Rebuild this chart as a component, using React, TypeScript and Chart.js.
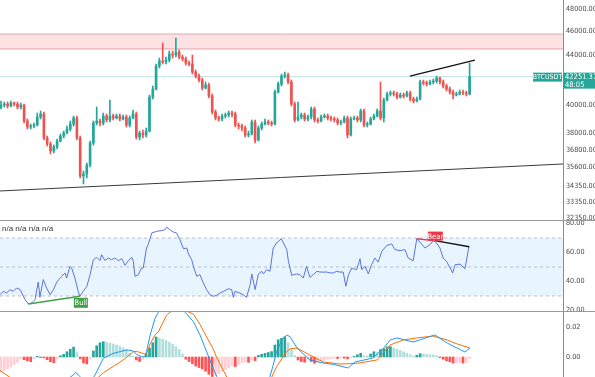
import React, { useEffect, useRef } from 'react';
import { Chart, registerables } from 'chart.js';

Chart.register(...registerables);

// ---------------- Price panel data (BTCUSDT candles) ----------------
const openPrices = [
  39896, 40047, 40123, 39972, 40199, 40123, 39896, 40047, 38855, 38418,
  38490, 38563, 39150, 39372, 37628, 37204, 36716, 36994, 37415, 37770,
  37985, 38273, 38636, 39076, 37628, 35024, 35156, 35758, 37274, 38709,
  38855, 38709, 39224, 38929, 39224, 39076, 39224, 39002, 39150, 38563,
  39076, 39372, 37699, 37985, 37842, 38129, 40656, 41275, 43107, 43516,
  43434, 43598, 44096, 44012, 44262, 43846, 43681, 43352, 43270, 42621,
  42301, 41982, 41353, 41588, 40733, 39521, 39076, 39002, 39224, 39298,
  39447, 39372, 38563, 38490, 38345, 37842, 37913, 38782, 37486, 38345,
  38636, 38782, 38709, 38636, 41042, 41667, 42301, 42381, 41824, 40123,
  38929, 39150, 39298, 39002, 39150, 39746, 38929, 38855, 39150, 39224,
  39076, 39002, 38929, 38709, 38782, 39076, 37842, 39002, 39076, 38929,
  39596, 38563, 38636, 39002, 39224, 39596, 39076, 40427, 40887, 40965,
  40887, 40656, 40810, 40733, 40965, 40503, 40351, 40503, 41824, 41745,
  41667, 41824, 41903, 42141, 41824, 41510, 41275, 41042, 40810, 40887,
  41042, 40965, 40887,
];
const highPrices = [
  40351, 40275, 40275, 40351, 40275, 40275, 40199, 40123, 39002, 38636,
  38709, 39447, 39596, 39521, 37770, 37345, 37134, 37557, 37913, 38129,
  38490, 38855, 39224, 39224, 37770, 35356, 35893, 37415, 38855, 39896,
  39002, 39447, 39372, 40427, 39372, 39372, 39372, 39298, 39298, 39224,
  39671, 39521, 38129, 38201, 38345, 40810, 41510, 43270, 43763, 45021,
  43846, 44346, 44346, 45448, 44430, 44012, 43846, 43516, 44012, 42783,
  42461, 42141, 41824, 41745, 40887, 39671, 39224, 39372, 39447, 39596,
  39596, 39521, 38709, 38636, 38490, 38129, 38929, 38929, 38490, 38782,
  39002, 38929, 38855, 41197, 41824, 42461, 42621, 42541, 41982, 40275,
  40275, 39447, 39447, 39298, 39896, 39896, 39076, 39298, 39372, 39372,
  39224, 39150, 39076, 38929, 39224, 39224, 39150, 39224, 39224, 39746,
  39746, 38782, 39150, 39372, 39746, 41824, 40580, 41042, 41120, 41120,
  41042, 40965, 40965, 41120, 41120, 40656, 40656, 41982, 41982, 41903,
  41982, 42062, 42301, 42221, 41982, 41667, 41431, 41197, 41042, 41197,
  41197, 41120, 43352,
];
const lowPrices = [
  39746, 39896, 39821, 39896, 39972, 39746, 39746, 38709, 38273, 38273,
  38345, 38490, 39002, 37486, 37064, 36509, 36578, 36855, 37345, 37628,
  37913, 38129, 38490, 37486, 34892, 34499, 34892, 35624, 37134, 38563,
  38490, 38563, 38782, 38782, 38929, 39002, 38855, 38929, 38418, 38418,
  39002, 37557, 37486, 37628, 37699, 38057, 40503, 41197, 42945, 43270,
  43270, 43434, 43763, 43846, 43681, 43516, 43189, 43107, 42461, 42141,
  41824, 41197, 41275, 40580, 39372, 38929, 38855, 38855, 39076, 39150,
  39150, 38418, 38273, 38129, 37699, 37699, 37842, 37274, 37415, 38201,
  38563, 38563, 38490, 38563, 40965, 41510, 42141, 41667, 39972, 38782,
  38855, 39002, 38855, 38855, 39002, 38782, 38709, 38782, 39076, 38929,
  38855, 38782, 38563, 38563, 38709, 37628, 37770, 38929, 38782, 38782,
  38418, 38418, 38563, 38929, 39150, 38929, 38782, 40351, 40733, 40733,
  40503, 40580, 40580, 40656, 40351, 40199, 40275, 40427, 41588, 41510,
  41588, 41667, 41745, 41667, 41353, 41120, 40887, 40503, 40733, 40810,
  40810, 40733, 40810,
];
const closePrices = [
  40047, 40123, 39972, 40199, 40123, 39896, 40047, 38855, 38418, 38490,
  38563, 39150, 39372, 37628, 37204, 36716, 36994, 37415, 37770, 37985,
  38273, 38636, 39076, 37628, 35024, 35156, 35758, 37274, 38709, 38855,
  38709, 39224, 38929, 39224, 39076, 39224, 39002, 39150, 38563, 39076,
  39372, 37699, 37985, 37842, 38129, 40656, 41275, 43107, 43516, 43434,
  43598, 44096, 44012, 44262, 43846, 43681, 43352, 43270, 42621, 42301,
  41982, 41353, 41588, 40733, 39521, 39076, 39002, 39224, 39298, 39447,
  39372, 38563, 38490, 38345, 37842, 37913, 38782, 37486, 38345, 38636,
  38782, 38709, 38636, 41042, 41667, 42301, 42381, 41824, 40123, 38929,
  39150, 39298, 39002, 39150, 39746, 38929, 38855, 39150, 39224, 39076,
  39002, 38929, 38709, 38782, 39076, 37842, 39002, 39076, 38929, 39596,
  38563, 38636, 39002, 39224, 39596, 39076, 40427, 40887, 40965, 40887,
  40656, 40810, 40733, 40965, 40503, 40351, 40503, 41824, 41745, 41667,
  41824, 41903, 42141, 41824, 41510, 41275, 41042, 40810, 40887, 41042,
  40965, 40887, 42251.37,
];

const priceTicks = [32350, 33350, 34350, 35600, 36800, 38000, 40000, 44000, 46000, 48000];
const priceMin = 32230;
const priceMax = 48830;
const lastPrice = 42251.37;
const symbolName = 'BTCUSDT';
const countdownText = '48:05';
const zoneLow = 44514;
const zoneHigh = 45793;
const trendIdx = [-0.3, 170.3];
const trendVal = [34046, 35826];
const resistIdx = [123.9, 143.6];
const resistVal = [42301, 43598];

// ---------------- RSI panel data ----------------
const rsiIdx = [
  -0.3, 0.7, 1.7, 2.7, 3.7, 4.7, 5.8, 6.3, 7.3, 8.3,
  9.3, 10.3, 11.3, 11.8, 12.8, 13.8, 14.9, 15.9, 16.9, 18.4,
  19.4, 19.9, 20.9, 21.4, 22.4, 23.4, 23.9, 24.9, 26, 27,
  28, 29, 30, 30.5, 31.5, 32.5, 33.5, 34.5, 35.6, 36.6,
  37.6, 38.6, 39.6, 40.1, 40.6, 41.6, 42.6, 43.1, 44.1, 44.6,
  45.7, 47.2, 48.7, 49.7, 50.2, 51.2, 52.2, 53.2, 54.2, 55.3,
  56.3, 56.8, 57.8, 58.3, 59.3, 60.3, 61.3, 62.3, 63.3, 64.4,
  65.4, 66.4, 67.4, 68.9, 69.9, 70.4, 70.9, 72.4, 73.4, 74.4,
  75.5, 76, 77, 78, 79, 79.5, 80.5, 81.5, 82.5, 83.5,
  84.9, 85.6, 86.6, 87.1, 88.1, 88.6, 89.6, 90.6, 91.6, 92.6,
  93.6, 94.6, 95.7, 96.7, 98.7, 99.7, 100.7, 101.7, 102.7, 103.7,
  104.5, 105.3, 106.3, 106.8, 107.8, 108.8, 109.3, 110.3, 111.3, 112.3,
  113.3, 114.3, 115.4, 116.9, 118.4, 119.4, 120.9, 122.4, 123.4, 124.9,
  126, 127.2, 128.5, 130, 131, 132, 133, 134, 135, 136.9,
  137.6, 139.1, 140.6, 141.8,
];
const rsiVal = [
  30.9, 33.2, 32, 34.4, 33.2, 35.5, 34.4, 32.1, 27.5, 24.5,
  25.2, 27.5, 39.6, 29.1, 41.3, 35.5, 31, 34.4, 39.6, 43.6,
  45.9, 42.4, 50.5, 49.3, 42.4, 33.2, 29.8, 33.2, 36.6, 44.7,
  55, 56.7, 54.4, 58.5, 54.4, 56.2, 55, 56.2, 54.4, 55.8,
  51.1, 54.4, 56.7, 54, 43.6, 44.7, 49.3, 49.3, 63.1, 65.4,
  73.5, 74.6, 75.1, 75.7, 77.4, 75.7, 74.1, 73.5, 68.9, 62.6,
  63.1, 59, 55, 50.5, 43.6, 44.7, 39, 34.4, 30.9, 29.8,
  30.5, 32.1, 33.2, 35, 34.4, 29.1, 33.2, 32, 30.9, 29.1,
  37.8, 45.2, 34.4, 45.2, 47, 45.2, 48.2, 47, 63.1, 66.5,
  69.5, 66.5, 62, 53.9, 44.2, 44.7, 45.2, 44.7, 42.4, 50.5,
  42.9, 44.7, 47, 46.5, 46.5, 45.9, 45.9, 47, 46.5, 46.5,
  36.7, 44.7, 49.3, 48.8, 48.2, 55.7, 48.2, 50.5, 45.2, 51.6,
  56.2, 53.4, 60.8, 64.9, 65.9, 62, 61.3, 62, 56.2, 54.4,
  69.5, 66.5, 63.1, 65.4, 68.2, 66.5, 63.1, 56.2, 53.9, 45.9,
  51.6, 52, 48.8, 64.2,
];
const rsiTicks = [20, 40, 60, 80];
const rsiUpper = 70;
const rsiMiddle = 50;
const rsiLower = 30;
const rsiMin = 19.66;
const rsiMax = 81.72;
const bullIdx = [8.3, 23.9];
const bullVal = [24.5, 29.8];
const bearIdx = [126, 131];
const bearVal = [69.5, 68.2];
const bearLineIdx = [131.5, 141.9];
const bearLineVal = [68.2, 64];
const headerText = 'n/a n/a n/a n/a';

// ---------------- MACD panel data ----------------
const macdHist = [
  -0.0098, -0.0088, -0.0078, -0.0066, -0.0052, -0.0036, -0.0012, -0.0018, -0.0026, -0.0031,
  -0.0012, 0.0004, -0.0004, -0.0006, -0.0018, -0.0032, -0.0038, -0.0012, 0.0008, 0.0018,
  0.0035, 0.0052, 0.0066, 0.003, -0.0012, -0.004, -0.0046, -0.0012, 0.004, 0.0075,
  0.0095, 0.0102, 0.0098, 0.0093, 0.0087, 0.008, 0.0071, 0.0062, 0.005, 0.0025,
  0.0005, -0.002, -0.003, -0.0015, 0.002, 0.006, 0.0095, 0.0133, 0.0125, 0.0118,
  0.011, 0.0098, 0.0085, 0.007, 0.005, 0.002, -0.0015, -0.003, -0.0045, -0.006,
  -0.007, -0.008, -0.0095, -0.0115, -0.013, -0.0125, -0.011, -0.0098, -0.0085, -0.0072,
  -0.006, -0.0064, -0.0048, -0.0038, -0.003, -0.0036, -0.002, -0.0024, 0.001, 0.0018,
  0.0024, 0.003, 0.0036, 0.008, 0.0115, 0.0125, 0.0135, 0.0095, 0.005, 0.001,
  -0.002, -0.003, -0.0035, -0.002, -0.003, -0.0042, -0.0035, -0.0025, -0.002, -0.0015,
  -0.0012, -0.0008, -0.001, -0.0006, -0.0008, -0.0012, -0.0004, 0.0004, 0.0015, 0.0025,
  0.001, 0.0008, 0.002, 0.0035, 0.0033, 0.005, 0.0055, 0.0068, 0.0069, 0.006,
  0.0052, 0.0044, 0.0035, 0.0026, 0.0015, 0.0005, 0.0012, 0.0022, 0.002, 0.0018,
  0.0016, 0.0014, 0.001, -0.0005, -0.0015, -0.0025, -0.0032, -0.004, -0.0038, -0.0035,
  -0.004, -0.0035, -0.001,
];
const macdIdx = [
  -0.3, 14.9, 21.9, 22.7, 23.9, 26.5, 28.5, 31, 34, 36.1,
  38.1, 40.1, 41.1, 42.6, 43.6, 44.1, 45.2, 46.7, 47.7, 50.2,
  53.2, 55.8, 58.3, 60.3, 62.3, 64.3, 65.4, 70.4, 76.5, 81.5,
  82.5, 83.5, 85.1, 86.6, 87.6, 89.7, 93.6, 97.6, 100.7, 105.2,
  107.3, 112.7, 115.9, 117.9, 120, 124.9, 131.5, 135.2, 138.2, 140.6,
  142.1,
];
const macdVal = [
  -0.0188, -0.023, -0.012, -0.0102, -0.0131, -0.0187, -0.012, -0.0009, 0.0024, 0.0036,
  0.0047, 0.004, 0.0018, 0.0002, 0.0002, 0.0036, 0.0147, 0.0258, 0.0298, 0.039,
  0.04, 0.0298, 0.0236, 0.0147, 0.0036, -0.0076, -0.0131, -0.0276, -0.0253, -0.0131,
  -0.0053, 0.0036, 0.0113, 0.0147, 0.0135, 0.006, -0.002, -0.004, -0.0049, -0.0073,
  -0.0033, -0.0007, 0.0058, 0.0113, 0.0127, 0.01, 0.0147, 0.0093, 0.006, 0.0033,
  0.006,
];
const signalIdx = [
  -0.3, 2.7, 10, 20, 22.5, 26, 29, 31, 34, 36,
  38, 40, 41, 42.6, 44, 45.2, 46.7, 47.7, 50.2, 53.2,
  55.8, 58.3, 60.3, 62.3, 64.3, 65.4, 70.4, 76.5, 81.5, 83.5,
  86.6, 87.6, 89.7, 93.6, 97.6, 102.7, 108, 113.9, 117.9, 121.8,
  126, 130.9, 135.2, 138.2, 142.1,
];
const signalVal = [
  -0.009, -0.0135, -0.019, -0.0185, -0.017, -0.016, -0.0145, -0.0105, -0.0063, -0.0035,
  -0.0003, 0.0035, 0.0038, 0.0027, 0.0016, 0.0087, 0.0148, 0.0168, 0.028, 0.0335,
  0.031, 0.0286, 0.0217, 0.0134, 0.0054, -0.0006, -0.0216, -0.023, -0.016, -0.0064,
  0.0037, 0.0055, 0.006, 0.0013, -0.0033, -0.0047, -0.0042, -0.002, 0.008, 0.0113,
  0.0127, 0.014, 0.0113, 0.0087, 0.006,
];
const macdTicks = [0, 0.02];
const macdMin = -0.01333;
const macdMax = 0.03;

const X_MIN = -0.3;
const X_MAX = 170.3;

const GREEN = '#26a69a';
const RED = '#ef5350';

const pts = (xs: number[], ys: number[]) => xs.map((x, i) => ({ x, y: ys[i] }));
const hline = (v: number) => [{ x: X_MIN, y: v }, { x: X_MAX, y: v }];

function pickFont() {
  const c = document.createElement('canvas').getContext('2d') as CanvasRenderingContext2D;
  const sample = '48000.00 BTCUSDT';
  c.font = '20px monospace';
  const mono = c.measureText(sample).width;
  const candidates = ['Liberation Sans Narrow', 'Arial Narrow', 'DejaVu Sans Condensed', 'Roboto Condensed', 'Open Sans Condensed'];
  for (const name of candidates) {
    c.font = `20px "${name}", monospace`;
    const w = c.measureText(sample).width;
    if (Math.abs(w - mono) > 0.5) {
      const narrow = name.indexOf('DejaVu') >= 0 ? 7.2 : 8;
      return { family: `"${name}", Arial, sans-serif`, axis: narrow, tag: 7.5, sym: 7, label: 7.5 };
    }
  }
  return { family: 'Arial, "Liberation Sans", sans-serif', axis: 7, tag: 6.4, sym: 6, label: 7 };
}

function rightAxis(type: string, min: number, max: number, ticks: number[], F: any) {
  return {
    type,
    position: 'right',
    min,
    max,
    bounds: 'data',
    afterBuildTicks: (s: any) => {
      s.ticks = ticks.map((v) => ({ value: v }));
    },
    afterFit: (s: any) => {
      s.width = 32;
    },
    grid: { display: false, drawTicks: false },
    border: { display: true, color: '#8c8c8c', width: 1 },
    ticks: {
      autoSkip: false,
      padding: 3,
      color: '#4a4a4a',
      font: { family: F.family, size: F.axis },
      callback: (v: any) => Number(v).toFixed(2),
    },
  };
}

const xAxis = { type: 'linear', min: X_MIN, max: X_MAX, display: false, offset: false };

const baseOptions = (padTop: number, padBottom: number) => ({
  responsive: false,
  maintainAspectRatio: false,
  animation: false,
  events: [],
  layout: { padding: { top: padTop, bottom: padBottom, left: 0, right: 0 } },
  elements: { point: { radius: 0 }, line: { tension: 0 } },
  plugins: { legend: { display: false }, tooltip: { enabled: false } },
});

function buildMain(F: any) {
  const idx = closePrices.map((_, i) => i);
  const colors = idx.map((i) => (closePrices[i] >= openPrices[i] ? GREEN : RED));
  const priceTag = {
    id: 'priceTag',
    afterDraw(chart: any) {
      const { ctx, chartArea, scales } = chart;
      const y = scales.y.getPixelForValue(lastPrice);
      const r = chartArea.right;
      ctx.save();
      ctx.fillStyle = GREEN;
      ctx.fillRect(r, y - 4, chart.width - r, 16);
      ctx.fillRect(r - 30, y - 4, 29, 9);
      ctx.fillStyle = '#ffffff';
      ctx.textBaseline = 'middle';
      ctx.textAlign = 'left';
      ctx.font = `${F.tag}px ${F.family}`;
      ctx.fillText(lastPrice.toFixed(2), r + 2, y + 0.5);
      ctx.fillText(countdownText, r + 2, y + 8);
      ctx.textAlign = 'center';
      ctx.font = `${F.sym}px ${F.family}`;
      ctx.fillText(symbolName, r - 15.5, y + 0.5);
      ctx.restore();
    },
  };
  return {
    type: 'bar',
    data: {
      datasets: [
        { type: 'line', label: 'resistance', data: pts(resistIdx, resistVal), borderColor: '#111111', borderWidth: 1.3, order: 0 },
        { type: 'bar', label: 'body', data: idx.map((i) => ({ x: i, y: [openPrices[i], closePrices[i]] })), backgroundColor: colors, barThickness: 2, minBarLength: 1, grouped: false, order: 1 },
        { type: 'bar', label: 'wick', data: idx.map((i) => ({ x: i, y: [lowPrices[i], highPrices[i]] })), backgroundColor: colors, barThickness: 1, grouped: false, order: 2 },
        { type: 'line', label: 'trend', data: pts(trendIdx, trendVal), borderColor: '#3a3a3a', borderWidth: 1, order: 3 },
        { type: 'line', label: 'last', data: hline(lastPrice), borderColor: 'rgba(38,166,154,0.3)', borderWidth: 1, order: 4 },
        { type: 'line', label: 'zoneTop', data: hline(zoneHigh), borderColor: 'rgba(205,150,158,0.75)', borderWidth: 1, fill: '+1', backgroundColor: 'rgba(242,54,69,0.15)', order: 5 },
        { type: 'line', label: 'zoneBottom', data: hline(zoneLow), borderColor: 'rgba(205,150,158,0.75)', borderWidth: 1, order: 6 },
      ],
    },
    options: {
      ...baseOptions(8, 8),
      scales: {
        x: xAxis,
        y: rightAxis('logarithmic', priceMin, priceMax, priceTicks, F),
      },
    },
    plugins: [priceTag],
  };
}

function buildRsi(F: any) {
  const tags = {
    id: 'divTags',
    afterDatasetsDraw(chart: any) {
      const { ctx, scales } = chart;
      const draw = (cx: number, top: number, text: string, color: string, w: number, h: number) => {
        ctx.save();
        ctx.fillStyle = color;
        ctx.fillRect(cx - w / 2, top, w, h);
        ctx.fillStyle = '#ffffff';
        ctx.font = `${F.label}px ${F.family}`;
        ctx.textAlign = 'center';
        ctx.textBaseline = 'middle';
        ctx.fillText(text, cx, top + h / 2 + 0.5);
        ctx.restore();
      };
      const bx = scales.x.getPixelForValue(bullIdx[1]);
      const by = scales.y.getPixelForValue(bullVal[1]);
      draw(bx + 1, by + 1.5, 'Bull', '#43a047', 14, 10);
      const ex = scales.x.getPixelForValue(bearIdx[1]);
      const ey = scales.y.getPixelForValue(bearVal[1]);
      draw(ex + 2, ey - 9, 'Bear', '#f23645', 15, 9);
    },
  };
  const dash = 'rgba(120,123,134,0.45)';
  return {
    type: 'line',
    data: {
      datasets: [
        { label: 'bearLine', data: pts(bearLineIdx, bearLineVal), borderColor: '#151515', borderWidth: 1.4 },
        { label: 'bearDiv', data: pts(bearIdx, bearVal), borderColor: '#f23645', borderWidth: 1.4 },
        { label: 'bullDiv', data: pts(bullIdx, bullVal), borderColor: '#43a047', borderWidth: 1.4 },
        { label: 'RSI', data: pts(rsiIdx, rsiVal), borderColor: '#5b74d9', borderWidth: 1 },
        { label: 'middle', data: hline(rsiMiddle), borderColor: dash, borderDash: [3, 3], borderWidth: 1 },
        { label: 'upper', data: hline(rsiUpper), borderColor: dash, borderDash: [3, 3], borderWidth: 1, fill: '+1', backgroundColor: 'rgba(33,150,243,0.1)' },
        { label: 'lower', data: hline(rsiLower), borderColor: dash, borderDash: [3, 3], borderWidth: 1 },
      ],
    },
    options: {
      ...baseOptions(8, 8),
      scales: {
        x: xAxis,
        y: rightAxis('linear', rsiMin, rsiMax, rsiTicks, F),
      },
    },
    plugins: [tags],
  };
}

function buildMacd(F: any) {
  const histColors = macdHist.map((v, i) => {
    const p = i > 0 ? macdHist[i - 1] : v;
    if (v >= 0) return v >= p ? '#26a69a' : '#b2dfdb';
    return v < p ? '#ff5252' : '#ffcdd2';
  });
  return {
    type: 'bar',
    data: {
      datasets: [
        { type: 'line', label: 'MACD', data: pts(macdIdx, macdVal), borderColor: '#2196f3', borderWidth: 1, order: 0 },
        { type: 'line', label: 'Signal', data: pts(signalIdx, signalVal), borderColor: '#ff6d00', borderWidth: 1, order: 1 },
        { type: 'bar', label: 'Histogram', data: macdHist.map((v, i) => ({ x: i, y: v })), backgroundColor: histColors, barThickness: 2, grouped: false, order: 2 },
      ],
    },
    options: {
      ...baseOptions(8, 8),
      scales: {
        x: xAxis,
        y: rightAxis('linear', macdMin, macdMax, macdTicks, F),
      },
    },
  };
}

export default function App() {
  const mainRef = useRef<HTMLCanvasElement>(null);
  const rsiRef = useRef<HTMLCanvasElement>(null);
  const macdRef = useRef<HTMLCanvasElement>(null);

  useEffect(() => {
    const F = pickFont();
    const main = new Chart(mainRef.current as HTMLCanvasElement, buildMain(F) as any);
    const rsi = new Chart(rsiRef.current as HTMLCanvasElement, buildRsi(F) as any);
    const macd = new Chart(macdRef.current as HTMLCanvasElement, buildMacd(F) as any);
    return () => {
      main.destroy();
      rsi.destroy();
      macd.destroy();
    };
  }, []);

  const abs = (top: number, h: number): React.CSSProperties => ({
    position: 'absolute',
    left: 0,
    top,
    width: 595,
    height: h,
    display: 'block',
  });

  return (
    <div style={{ position: 'fixed', left: 0, top: 0, width: 595, height: 377, overflow: 'hidden', background: '#ffffff' }}>
      <canvas ref={mainRef} width={595} height={236} style={abs(-8, 236)} />
      <canvas ref={rsiRef} width={595} height={106} style={abs(213, 106)} />
      <canvas ref={macdRef} width={595} height={81} style={abs(304, 81)} />
      <div style={{ position: 'absolute', left: 0, top: 220, width: 595, height: 1, background: '#9a9a9a' }} />
      <div style={{ position: 'absolute', left: 0, top: 311, width: 595, height: 1, background: '#9a9a9a' }} />
      <div
        style={{
          position: 'absolute',
          left: 2,
          top: 224,
          fontFamily: 'Arial, "Liberation Sans", sans-serif',
          fontSize: 8,
          lineHeight: '10px',
          color: '#333333',
          whiteSpace: 'pre',
        }}
      >
        {headerText}
      </div>
    </div>
  );
}
